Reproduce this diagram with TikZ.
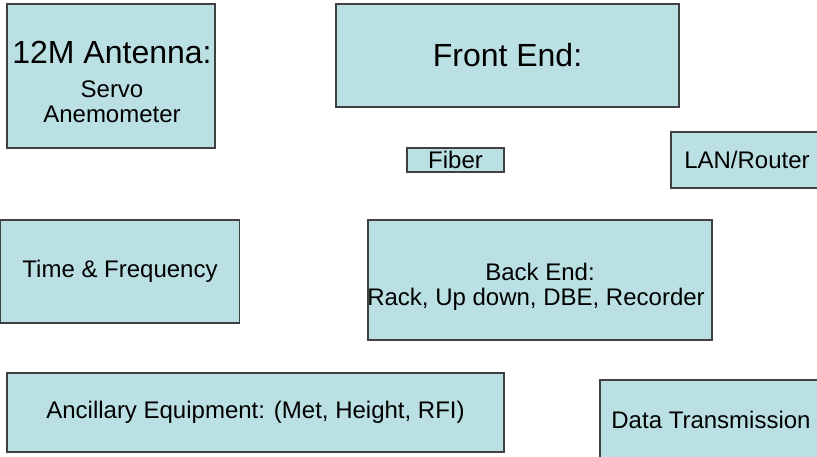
\documentclass[tikz,border=0pt]{standalone}
\usepackage{fontspec}
\setmainfont{Liberation Sans}
\usepackage{tikz}
\definecolor{boxfill}{HTML}{BBE0E3}
\definecolor{boxline}{HTML}{404040}
\newcommand{\unitfont}{\fontsize{24}{26}\selectfont}
\newcommand{\headfont}{\fontsize{32}{36}\selectfont}
\tikzset{
  unit/.style={draw=boxline, fill=boxfill, line width=1.2pt, inner sep=0pt, font=\unitfont},
  txt/.style={anchor=base, inner sep=0pt, font=\unitfont}
}

\begin{document}
\begin{tikzpicture}[x=1pt, y=-1pt]
      \useasboundingbox (0,0) rectangle (817,456);
      \clip (0,0) rectangle (817,456);

      % Box for the antenna
      \node[unit, minimum width=208pt, minimum height=144pt] (antenna) at (111,76) {};
      \node[txt, font=\headfont] (antennahead) at (112,63) {12M Antenna:};
      \node[txt] (servo) at (112,97) {Servo};
      \node[txt] (anemo) at (112,122) {Anemometer};

      % Box for the front end
      \node[unit, font=\headfont, minimum width=343pt, minimum height=103pt] (frontend) at (507.5,55.5) {Front End:};

      % Fiber and network
      \node[unit, minimum width=97pt, minimum height=24pt] (fiber) at (455.5,160) {Fiber};
      \node[unit, minimum width=152pt, minimum height=56pt] (lan) at (747,160) {LAN/Router};

      % Box for time & frequency
      \node[unit, minimum width=239pt, minimum height=103pt] (timefreq) at (120,271.5) {Time \& Frequency};

      % Box for the back end
      \node[unit, minimum width=344pt, minimum height=120pt] (backend) at (540,280) {};
      \node[txt] (backhead) at (540,280) {Back End:};
      \node[txt] (backlist) at (536,305) {Rack, Up down, DBE, Recorder};

      % Bottom row
      \node[unit, minimum width=497pt, minimum height=79pt] (ancillary) at (255.5,412.5) {Ancillary Equipment: (Met, Height, RFI)};
      \node[unit, minimum width=222pt, minimum height=80pt] (datatx) at (711,420) {Data Transmission};
    \end{tikzpicture}
\end{document}
